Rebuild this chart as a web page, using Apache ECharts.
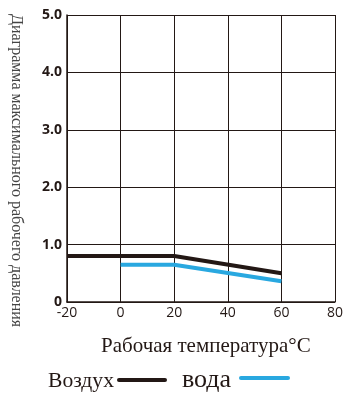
<!DOCTYPE html>
<html><head><meta charset="utf-8">
<script src="https://cdn.jsdelivr.net/npm/echarts@6/dist/echarts.min.js"></script>
<style>html,body{margin:0;padding:0;background:#fff}#c{width:347px;height:393px}</style>
</head><body><div id="c"></div>
<script>
const xTicks = [-20, 0, 20, 40, 60, 80];
const airX = [-20, 20, 60];
const airY = [0.8, 0.8, 0.5];
const waterX = [0, 20, 60];
const waterY = [0.65, 0.65, 0.36];
const airName = 'Воздух';
const waterName = 'вода';
const xTitle = 'Рабочая температура°C';
const yTitle = 'Диаграмма максимального рабочего давления';

const chart = echarts.init(document.getElementById('c'));
const dark = '#231815';
const blue = '#29a8e0';
chart.setOption({
  animation: false,
  grid: {left: 67, right: 12, top: 15, bottom: 91},
  xAxis: {
    type: 'value', min: -20, max: 80, interval: 20,
    axisLine: {onZero: false, lineStyle: {color: dark, width: 1.5}},
    axisTick: {show: false},
    splitLine: {lineStyle: {color: dark, width: 1}},
    axisLabel: {color: dark, fontSize: 14, fontFamily: 'Open Sans', margin: 4}
  },
  yAxis: {
    type: 'value', min: 0, max: 5, interval: 1,
    axisLine: {show: true, onZero: false, lineStyle: {color: dark, width: 1.5}},
    axisTick: {show: false},
    splitLine: {lineStyle: {color: dark, width: 1}},
    axisLabel: {color: dark, fontSize: 14, fontWeight: 'bold', fontFamily: 'Open Sans', margin: 5,
      formatter: v => v === 0 ? '0' : v.toFixed(1)}
  },
  series: [
    {type: 'line', data: airX.map((x, i) => [x, airY[i]]), symbol: 'none',
      lineStyle: {color: dark, width: 4}},
    {type: 'line', data: waterX.map((x, i) => [x, waterY[i]]), symbol: 'none',
      lineStyle: {color: blue, width: 4}}
  ],
  graphic: [
    {type: 'text', x: 101, y: 346, style: {text: xTitle, font: '21px "Liberation Serif"', fill: dark, verticalAlign: 'middle'}},
    {type: 'text', x: 24, y: 14, rotation: -Math.PI / 2,
      style: {text: yTitle, font: '16px "Liberation Serif"', fill: '#444', verticalAlign: 'top'}},
    {type: 'text', x: 48, y: 382, scaleX: 1.08, style: {text: airName, font: '20px "Liberation Serif"', fill: dark, verticalAlign: 'middle'}},
    {type: 'line', shape: {x1: 119, y1: 380, x2: 165, y2: 380}, style: {stroke: dark, lineWidth: 4, lineCap: 'round'}},
    {type: 'text', x: 182, y: 380, style: {text: waterName, font: '26px "Liberation Serif"', fill: dark, verticalAlign: 'middle'}},
    {type: 'line', shape: {x1: 241, y1: 378, x2: 288, y2: 378}, style: {stroke: blue, lineWidth: 4, lineCap: 'round'}}
  ]
});
</script></body></html>
